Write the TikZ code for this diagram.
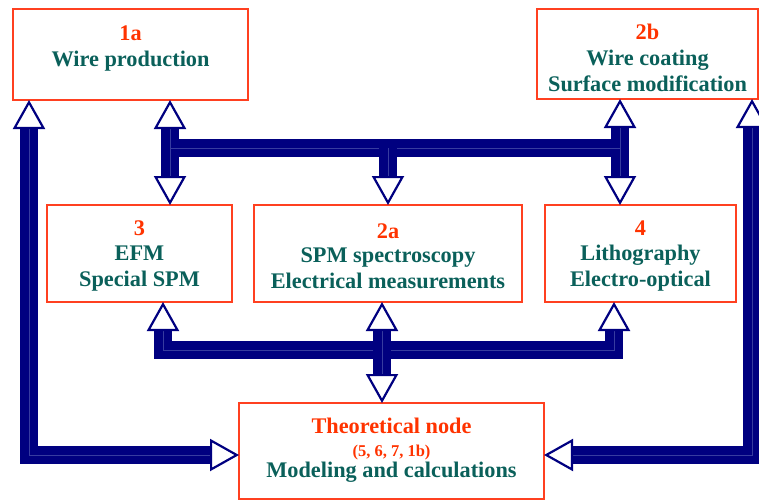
\documentclass[tikz,border=0pt]{standalone}
\usepackage{fontspec}
\setmainfont{Liberation Serif}
\usetikzlibrary{arrows.meta}
\definecolor{boxred}{RGB}{255,64,32}
\definecolor{numred}{RGB}{255,51,0}
\definecolor{tealtxt}{RGB}{10,96,90}
\definecolor{arrnavy}{RGB}{0,0,128}
\definecolor{strandc}{RGB}{55,60,160}
\begin{document}
\begin{tikzpicture}[x=1pt,y=-1pt,
  box/.style={draw=boxred, line width=2pt, inner sep=0pt, outer sep=0pt, anchor=north west},
  lbl/.style={align=center, font=\bfseries\fontsize{22.3}{26}\selectfont, text=tealtxt, inner sep=0pt},
  shaft/.style={draw=arrnavy, line width=8.2pt, double=strandc, double distance=0.8pt, line join=miter},
  hd/.tip={Triangle[open, fill=white, length=29pt, width=32pt, line width=2.2pt]}
]
\useasboundingbox (0,0) rectangle (759,501);
% boxes
\node[box, minimum width=235pt, minimum height=91pt] (b1a) at (13,9) {};
\node[box, minimum width=221pt, minimum height=90pt] (b2b) at (537,9) {};
\node[box, minimum width=185pt, minimum height=97pt] (b3) at (47,205) {};
\node[box, minimum width=268pt, minimum height=97pt] (b2a) at (254,205) {};
\node[box, minimum width=191pt, minimum height=97pt] (b4) at (545,205) {};
\node[box, minimum width=305pt, minimum height=96pt] (bth) at (239,403) {};
% labels
\node[lbl] (l1a) at (130.5,49) {\textcolor{numred}{1a}\\Wire production};
\node[lbl] (l2b) at (647.5,57.5) {\textcolor{numred}{2b}\\Wire coating\\Surface modification};
\node[lbl] (l3) at (139.5,256) {\textcolor{numred}{3}\\[-1.5pt]EFM\\Special SPM};
\node[lbl] (l2a) at (388,256) {\textcolor{numred}{2a}\\[-1.5pt]SPM spectroscopy\\Electrical measurements};
\node[lbl] (l4) at (640.5,256) {\textcolor{numred}{4}\\[-1.5pt]Lithography\\Electro-optical};
\node[lbl] (lth) at (391.5,450.5) {\textcolor{numred}{Theoretical node}\\[-3pt]{\fontsize{16.5}{18}\selectfont\textcolor{numred}{(5, 6, 7, 1b)}}\\[-5pt]Modeling and calculations};
% junction coordinates
\coordinate (t1) at (170,148);
\coordinate (t2) at (388,148);
\coordinate (t3) at (620,148);
\coordinate (m1) at (163,350);
\coordinate (m2) at (382,350);
\coordinate (m3) at (614,350);
\coordinate (lc) at (29,455);
\coordinate (rc) at (752,455);
% top connectors
\draw[shaft, {hd}-{hd}] (b3.north -| t1) -- (t1) -- (t3) -- (b4.north -| t3);
\draw[shaft, -{hd}] (t1) -- (b1a.south -| t1);
\draw[shaft, -{hd}] (t3) -- (b2b.south -| t3);
\draw[shaft, -{hd}] (t2) -- (b2a.north -| t2);
% bottom connectors
\draw[shaft, {hd}-{hd}] (b3.south -| m1) -- (m1) -- (m3) -- (b4.south -| m3);
\draw[shaft, {hd}-{hd}] (b2a.south -| m2) -- (bth.north -| m2);
% outer connectors
\draw[shaft, {hd}-{hd}] (b1a.south -| lc) -- (lc) -- (bth.west |- lc);
\draw[shaft, {hd}-{hd}] (b2b.south -| rc) -- (rc) -- (bth.east |- rc);
\end{tikzpicture}
\end{document}
